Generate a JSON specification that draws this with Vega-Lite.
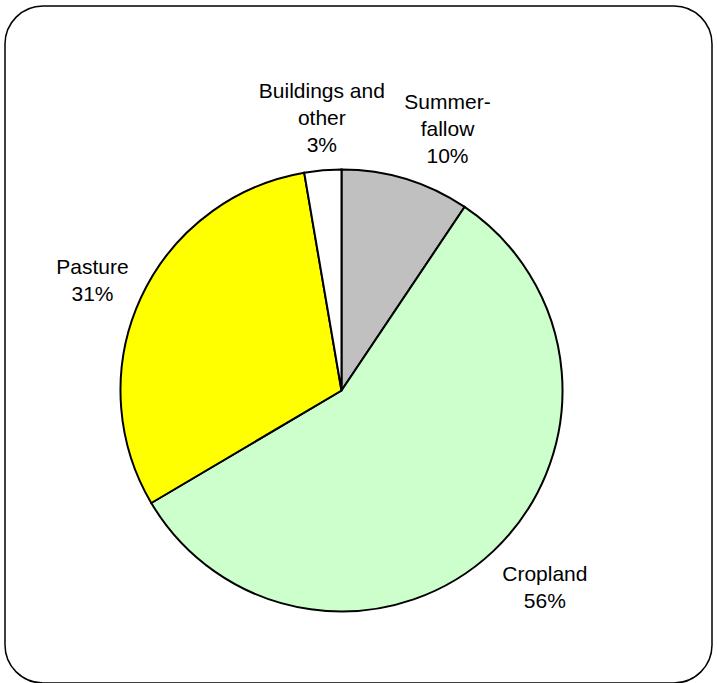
{
  "$schema": "https://vega.github.io/schema/vega-lite/v6.json",
  "width": 707,
  "height": 677,
  "autosize": {"type": "none"},
  "padding": {"left": 5, "top": 6, "right": 5, "bottom": 0},
  "background": "white",
  "config": {
    "view": {"stroke": null},
    "font": "Liberation Sans"
  },
  "data": {
    "values": [
      {"category": "Summer-fallow", "order": 1, "share": 9.4, "label": ["Summer-", "fallow", "10%"]},
      {"category": "Cropland", "order": 2, "share": 57.1, "label": ["Cropland", "56%"]},
      {"category": "Pasture", "order": 3, "share": 30.8, "label": ["Pasture", "31%"]},
      {"category": "Buildings and other", "order": 4, "share": 2.7, "label": ["Buildings and", "other", "3%"]}
    ]
  },
  "layer": [
    {
      "data": {"values": [{"frame": "chart area"}]},
      "mark": {"type": "rect", "cornerRadius": 38, "fill": "white", "stroke": "black", "strokeWidth": 1.5},
      "encoding": {
        "x": {"value": 0},
        "x2": {"value": "width"},
        "y": {"value": 0},
        "y2": {"value": "height"}
      }
    },
    {
      "mark": {"type": "arc", "outerRadius": 221, "stroke": "black", "strokeWidth": 2, "x": {"expr": "width/2 - 17"}, "y": {"expr": "height/2 + 46"}},
      "encoding": {
        "theta": {"field": "share", "type": "quantitative", "stack": true},
        "order": {"field": "order", "type": "quantitative"},
        "color": {
          "field": "category",
          "type": "nominal",
          "scale": {"domain": ["Summer-fallow", "Cropland", "Pasture", "Buildings and other"], "range": ["#C0C0C0", "#CCFFCC", "#FFFF00", "#FFFFFF"]},
          "legend": null
        }
      }
    },
    {
      "mark": {
        "type": "text",
        "radius": 232,
        "fontSize": 21,
        "lineHeight": 27,
        "align": "center",
        "baseline": "middle",
        "dx": {"expr": "(sin((datum.share_start + datum.share_end) * PI / 100) > 0.15 ? 1 : (sin((datum.share_start + datum.share_end) * PI / 100) < -0.15 ? -1 : 0)) * 5.5 * max(length(datum.label[0]), length(datum.label[1] || ''), length(datum.label[2] || ''))"},
        "dy": {"expr": "-cos((datum.share_start + datum.share_end) * PI / 100) * length(datum.label) * 27 / 2 - (length(datum.label) - 1) * 27 / 2 + max(0, -cos((datum.share_start + datum.share_end) * PI / 100)) * 13"},
        "color": "black",
        "x": {"expr": "width/2 - 17"},
        "y": {"expr": "height/2 + 46"}
      },
      "encoding": {
        "theta": {"field": "share", "type": "quantitative", "stack": true},
        "order": {"field": "order", "type": "quantitative"},
        "text": {"field": "label"}
      }
    }
  ]
}
